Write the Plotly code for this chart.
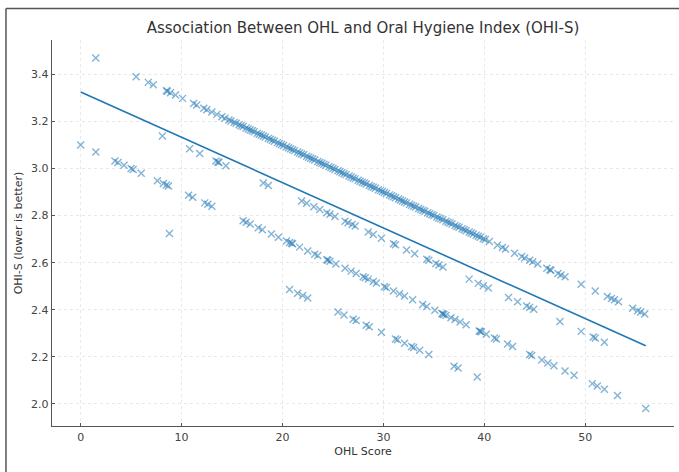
import plotly.graph_objects as go

# ---- Data ----
# Band A (top band)
band_a_x = [1.5, 5.5, 6.7, 7.2, 8.5, 8.6, 8.9, 9.4, 10.1, 11.2, 11.5, 12.2, 12.5, 13.0, 13.5, 14.0, 14.3, 14.7,
            14.9, 15.2, 15.4, 15.7, 15.9, 16.1, 16.4, 16.6, 16.8, 17.0, 17.2, 17.5, 17.7, 17.9, 18.1, 18.3, 18.6,
            18.8, 19.0, 19.2, 19.5, 19.7, 19.9, 20.1, 20.4, 20.6, 20.8, 21.0, 21.2, 21.5, 21.7, 21.9, 22.1, 22.4,
            22.6, 22.8, 23.0, 23.2, 23.5, 23.7, 23.9, 24.1, 24.3, 24.6, 24.8, 25.0, 25.2, 25.5, 25.7, 25.9, 26.1,
            26.3, 26.6, 26.8, 27.0, 27.2, 27.5, 27.7, 27.9, 28.1, 28.3, 28.6, 28.8, 29.0, 29.2, 29.5, 29.7, 29.9,
            30.1, 30.3, 30.6, 30.8, 31.0, 31.2, 31.5, 31.7, 31.9, 32.1, 32.3, 32.6, 32.8, 33.0, 33.2, 33.5, 33.7,
            33.9, 34.1, 34.4, 34.6, 34.8, 35.0, 35.3, 35.5, 35.7, 35.9, 36.2, 36.4, 36.6, 36.8, 37.1, 37.3, 37.5,
            37.8, 38.0, 38.2, 38.5, 38.7, 38.9, 39.2, 39.4, 39.6, 39.9, 40.1,
            40.5, 41.3, 41.8, 42.1, 43.0, 43.7, 44.0, 44.5, 44.8, 45.3, 46.2, 46.5, 46.6, 47.3, 47.6, 48.0,
            49.6, 51.0, 52.2, 52.6, 52.9, 53.3, 54.7, 55.2, 55.5, 55.9]
band_a_y = [3.470, 3.390, 3.366, 3.356, 3.330, 3.328, 3.322, 3.312, 3.298, 3.276, 3.270, 3.256, 3.250, 3.240, 3.230, 3.220, 3.214, 3.206,
            3.202, 3.196, 3.192, 3.186, 3.182, 3.178, 3.172, 3.168, 3.164, 3.160, 3.156, 3.150, 3.146, 3.142, 3.138, 3.134, 3.128,
            3.124, 3.120, 3.116, 3.110, 3.106, 3.102, 3.098, 3.092, 3.088, 3.084, 3.080, 3.076, 3.070, 3.066, 3.062, 3.058, 3.052,
            3.048, 3.044, 3.040, 3.036, 3.030, 3.026, 3.022, 3.018, 3.014, 3.008, 3.004, 3.000, 2.996, 2.990, 2.986, 2.982, 2.978,
            2.974, 2.968, 2.964, 2.960, 2.956, 2.950, 2.946, 2.942, 2.938, 2.934, 2.928, 2.924, 2.920, 2.916, 2.910, 2.906, 2.902,
            2.898, 2.894, 2.888, 2.884, 2.880, 2.876, 2.870, 2.866, 2.862, 2.858, 2.854, 2.848, 2.844, 2.840, 2.836, 2.830, 2.826,
            2.822, 2.818, 2.812, 2.808, 2.804, 2.800, 2.794, 2.790, 2.786, 2.782, 2.776, 2.772, 2.768, 2.764, 2.758, 2.754, 2.750,
            2.744, 2.740, 2.736, 2.730, 2.726, 2.722, 2.716, 2.712, 2.708, 2.702, 2.698,
            2.690, 2.674, 2.664, 2.658, 2.640, 2.626, 2.620, 2.610, 2.604, 2.594, 2.576, 2.570, 2.568, 2.554, 2.548, 2.540,
            2.508, 2.480, 2.456, 2.448, 2.442, 2.434, 2.406, 2.396, 2.390, 2.382]

# Band B (second band starting at 0, 3.10)
band_b_x = [0.0, 1.5, 3.4, 3.7, 4.3, 5.0, 5.2, 6.0, 7.6, 8.2, 8.5, 8.7, 10.7, 11.1, 12.3, 12.6, 13.0,
            16.1, 16.4, 16.8, 17.6, 18.0, 18.9, 19.6, 20.4, 20.7, 20.9, 21.0, 21.7, 22.5, 23.2, 23.5, 24.4, 24.5,
            24.7, 25.3, 26.2, 26.8, 27.3, 28.0, 28.2, 28.5, 29.0, 29.3, 30.1, 30.3, 31.0, 31.6, 32.1, 32.9, 33.9,
            34.3, 35.1, 35.8, 35.9, 36.0, 36.2, 36.7, 37.1, 37.6, 38.2, 39.5, 39.6, 39.7, 40.2, 41.0, 41.2, 42.3,
            42.8, 44.5, 44.7, 45.7, 46.3, 46.9, 48.0, 48.9, 50.7, 51.2, 51.9, 53.2, 56.0]
band_b_y = [3.100, 3.070, 3.032, 3.026, 3.014, 3.000, 2.996, 2.980, 2.948, 2.936, 2.930, 2.926, 2.886, 2.878, 2.854, 2.848, 2.840,
            2.778, 2.772, 2.764, 2.748, 2.740, 2.722, 2.708, 2.692, 2.686, 2.682, 2.680, 2.666, 2.650, 2.636, 2.630, 2.612, 2.610,
            2.606, 2.594, 2.576, 2.564, 2.554, 2.540, 2.536, 2.530, 2.520, 2.514, 2.498, 2.494, 2.480, 2.468, 2.458, 2.442, 2.422,
            2.414, 2.398, 2.384, 2.382, 2.380, 2.376, 2.366, 2.358, 2.348, 2.336, 2.310, 2.308, 2.306, 2.296, 2.280, 2.276, 2.254,
            2.244, 2.210, 2.206, 2.186, 2.174, 2.162, 2.140, 2.122, 2.086, 2.076, 2.062, 2.036, 1.980]

# Band C (between A and B)
band_c_x = [8.1, 10.8, 11.8, 13.4, 13.6, 13.7, 14.4, 18.1, 18.6, 21.9, 22.4, 23.1, 23.7, 24.4, 24.7, 25.2,
            26.2, 26.5, 26.9, 27.2, 28.5, 29.0, 29.8, 31.0, 31.2, 32.3, 33.1, 34.3, 34.5, 35.2, 35.5, 35.9,
            38.5, 39.4, 39.9, 40.4, 42.4, 43.3, 44.2, 44.5, 44.9, 47.5, 49.6, 50.8, 51.0, 51.9]
band_c_y = [3.138, 3.084, 3.064, 3.032, 3.028, 3.026, 3.012, 2.938, 2.928, 2.862, 2.852, 2.838, 2.826, 2.812, 2.806, 2.796,
            2.776, 2.770, 2.762, 2.756, 2.730, 2.720, 2.704, 2.680, 2.676, 2.654, 2.638, 2.614, 2.610, 2.596, 2.590, 2.582,
            2.530, 2.512, 2.502, 2.492, 2.452, 2.434, 2.416, 2.410, 2.402, 2.350, 2.308, 2.284, 2.280, 2.262]

# Band D (lowest band)
band_d_x = [8.8, 20.7, 21.5, 22.0, 22.5, 25.5, 26.1, 27.0, 27.3, 28.3, 28.6, 29.8, 31.2, 31.4, 32.1, 32.8,
            33.0, 33.6, 34.5, 37.0, 37.4, 39.3]
band_d_y = [2.724, 2.486, 2.470, 2.460, 2.450, 2.390, 2.378, 2.360, 2.354, 2.334, 2.328, 2.304, 2.276, 2.272, 2.258, 2.244,
            2.240, 2.228, 2.210, 2.160, 2.152, 2.114]

# Fitted trend line end points
trend_x = [0, 56]
trend_y = [3.325, 2.247]

x_ticks = [0, 10, 20, 30, 40, 50]
y_ticks = [2.0, 2.2, 2.4, 2.6, 2.8, 3.0, 3.2, 3.4]

BLUE = "#1f77b4"
FONT = "DejaVu Sans"

all_x = band_a_x + band_b_x + band_c_x + band_d_x
all_y = band_a_y + band_b_y + band_c_y + band_d_y

fig = go.Figure()
fig.add_trace(go.Scatter(
    x=all_x, y=all_y, mode="markers",
    marker=dict(symbol="x-thin", size=7, color=BLUE, opacity=0.55,
                line=dict(color=BLUE, width=1.4)),
    showlegend=False, hoverinfo="skip"))
fig.add_trace(go.Scatter(
    x=trend_x, y=trend_y, mode="lines",
    line=dict(color=BLUE, width=1.6), showlegend=False, hoverinfo="skip"))

axis_common = dict(
    showline=True, linecolor="#555555", linewidth=1.3, mirror=False,
    ticks="inside", ticklen=3, tickcolor="#555555", tickwidth=1,
    showgrid=True, gridcolor="#e8e8e8", griddash="dot", gridwidth=1,
    zeroline=False, automargin=False,
    tickfont=dict(family=FONT, size=11, color="#444444"),
)

fig.update_xaxes(range=[-2.84, 58.8], tickvals=x_ticks, ticktext=[str(v) for v in x_ticks],
                 title=dict(text="OHL Score", font=dict(family=FONT, size=11, color="#333333"), standoff=4),
                 **axis_common)
fig.update_yaxes(range=[1.906, 3.546], tickvals=y_ticks, ticktext=[f"{v:.1f}" for v in y_ticks],
                 title=dict(text="OHI-S (lower is better)", font=dict(family=FONT, size=11, color="#333333"), standoff=6),
                 **axis_common)

# outer frame (left and top edges visible in the reference)
fig.add_shape(type="line", xref="paper", yref="paper", x0=-0.074, x1=-0.074, y0=-0.12, y1=1.0816,
              line=dict(color="#555555", width=1.5))
fig.add_shape(type="line", xref="paper", yref="paper", x0=-0.074, x1=1.01, y0=1.0816, y1=1.0816,
              line=dict(color="#555555", width=1.5))

fig.update_layout(
    width=679, height=472,
    margin=dict(l=52, r=5, t=40, b=46, autoexpand=False),
    paper_bgcolor="white", plot_bgcolor="white",
    font=dict(family=FONT, color="#333333"),
    title=dict(text="Association Between OHL and Oral Hygiene Index (OHI-S)",
               x=0.5, xref="paper", xanchor="center",
               y=1 - 28 / 472, yref="container", yanchor="middle",
               font=dict(family=FONT, size=15, color="#333333")),
)

fig.write_html("out.html", config={"displayModeBar": False, "staticPlot": True},
               post_script="document.body.style.margin='0px';document.body.style.overflow='hidden';")
